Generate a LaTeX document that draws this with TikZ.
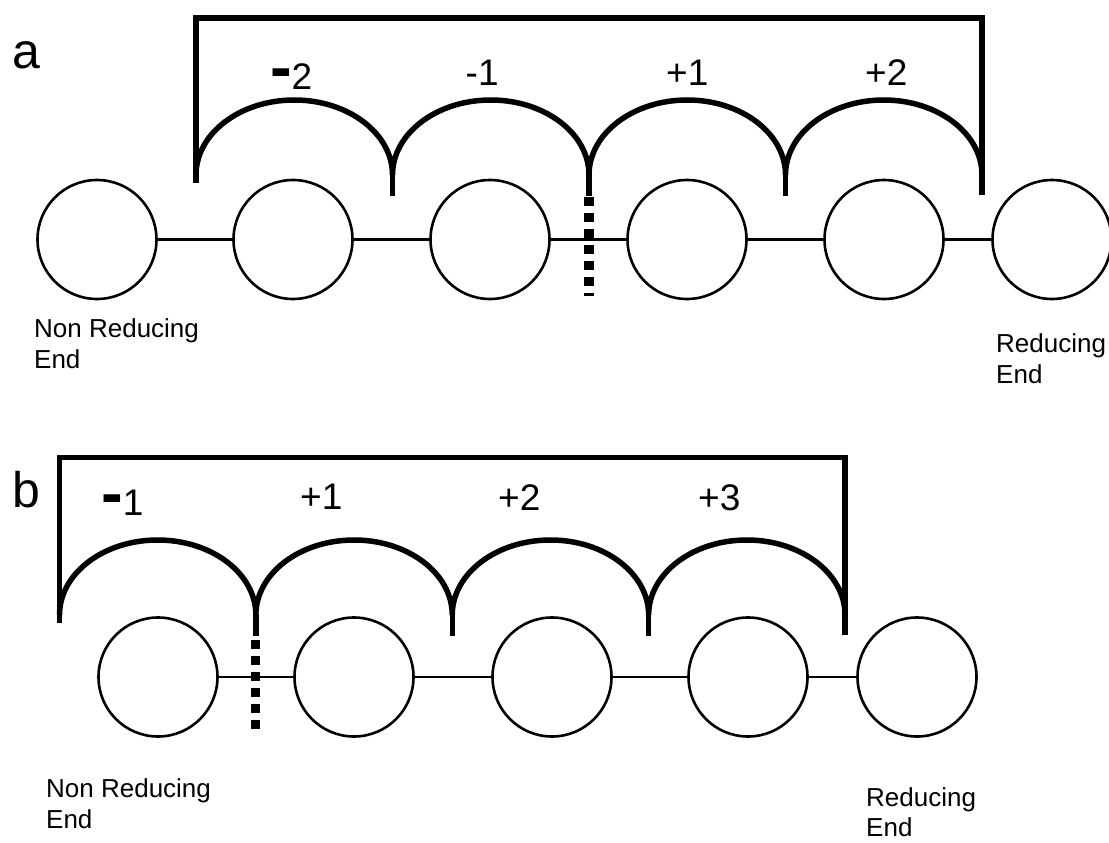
\documentclass[tikz,border=0pt]{standalone}
\usepackage{fontspec}
\setmainfont{Liberation Sans}
\tikzset{
  ring/.style={circle, draw, line width=2.6pt, minimum size=119pt, inner sep=0pt},
  link/.style={line width=2.6pt},
  bracket/.style={line width=5.5pt, line join=miter},
  cutline/.style={line width=9.5pt, dash pattern=on 8.5pt off 7.5pt},
  num/.style={font=\fontsize{37}{37}\selectfont, inner sep=0pt, anchor=base west},
  endlbl/.style={font=\fontsize{26}{31.5}\selectfont, align=left, inner sep=0pt, anchor=north west},
  panel/.style={font=\fontsize{50}{50}\selectfont, inner sep=0pt, anchor=base west},
}
\newcommand{\bigminus}{{\fontsize{65}{65}\selectfont\bfseries -}}
\begin{document}
\begin{tikzpicture}[x=1pt,y=-1pt]
\useasboundingbox (0,0) rectangle (1109,843);
% ---------- panel a ----------
\node[panel] (la) at (12,69) {a};
\foreach \n/\x in {1/97,2/293,3/490,4/687,5/884,6/1052}
  \node[ring] (a\n) at (\x,239.5) {};
\foreach \i/\j in {1/2,2/3,3/4,4/5,5/6}
  \draw[link] (a\i) -- (a\j);
\draw[bracket] (982,195) -- (982,18) -- (196,18) -- (196,183);
\draw[bracket] (196,175)
  arc[start angle=180,end angle=0,x radius=98.25pt,y radius=75pt]
  arc[start angle=180,end angle=0,x radius=98.25pt,y radius=75pt]
  arc[start angle=180,end angle=0,x radius=98.25pt,y radius=75pt]
  arc[start angle=180,end angle=0,x radius=98.25pt,y radius=75pt];
\foreach \x in {392.5,589,785.5}
  \draw[bracket] (\x,174) -- (\x,196);
\coordinate (ca1) at (589,197);
\coordinate (ca2) at (589,295.5);
\draw[cutline] (ca1) -- (ca2);
\node[num] (ta1) at (269.8,90) {\bigminus2};
\node[num] (ta2) at (465.5,85) {-1};
\node[num] (ta3) at (666,85) {+1};
\node[num] (ta4) at (865,85) {+2};
\node[endlbl] (na) at (34,318) {Non Reducing\\End};
\node[endlbl] (ra) at (996,333) {Reducing\\End};
% ---------- panel b ----------
\node[panel] (lb) at (12,507) {b};
\foreach \n/\x in {1/158,2/354,3/552,4/748,5/917}
  \node[ring] (b\n) at (\x,677) {};
\foreach \i/\j in {1/2,2/3,3/4,4/5}
  \draw[link] (b\i) -- (b\j);
\draw[bracket] (845,635) -- (845,457.5) -- (59.5,457.5) -- (59.5,623);
\draw[bracket] (59.5,615)
  arc[start angle=180,end angle=0,x radius=98.19pt,y radius=75pt]
  arc[start angle=180,end angle=0,x radius=98.19pt,y radius=75pt]
  arc[start angle=180,end angle=0,x radius=98.19pt,y radius=75pt]
  arc[start angle=180,end angle=0,x radius=98.19pt,y radius=75pt];
\foreach \x in {255.9,452.3,648.6}
  \draw[bracket] (\x,614) -- (\x,636);
\coordinate (cb1) at (255.5,640);
\coordinate (cb2) at (255.5,728.5);
\draw[cutline] (cb1) -- (cb2);
\node[num] (tb1) at (101,515) {\bigminus1};
\node[num] (tb2) at (300,509) {+1};
\node[num] (tb3) at (498,510) {+2};
\node[num] (tb4) at (698,510) {+3};
\node[endlbl] (nb) at (46,778) {Non Reducing\\End};
\node[endlbl, font=\fontsize{26}{30}\selectfont] (rb) at (866,787) {Reducing\\End};
\end{tikzpicture}
\end{document}
